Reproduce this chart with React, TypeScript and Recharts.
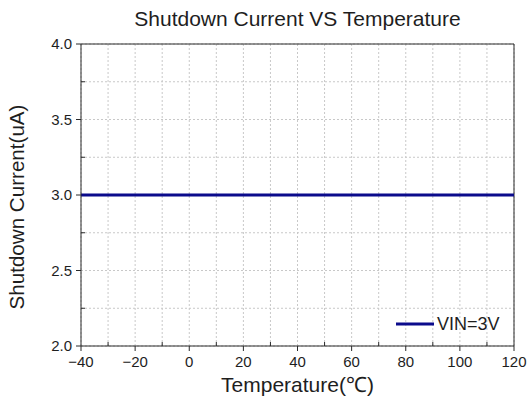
import React from 'react';
import { LineChart, Line, XAxis, YAxis, CartesianGrid, ReferenceLine, Legend } from 'recharts';

const temperatures = [-40, -20, 0, 20, 40, 60, 80, 100, 120];
const shutdownCurrent = [3.0, 3.0, 3.0, 3.0, 3.0, 3.0, 3.0, 3.0, 3.0];
const xTicks = [-40, -30, -20, -10, 0, 10, 20, 30, 40, 50, 60, 70, 80, 90, 100, 110, 120];
const yTicks = [2.0, 2.25, 2.5, 2.75, 3.0, 3.25, 3.5, 3.75, 4.0];
const seriesName = 'VIN=3V';
const title = 'Shutdown Current VS Temperature';
const xLabel = 'Temperature(℃)';
const yLabel = 'Shutdown Current(uA)';

const data = temperatures.map((t, i) => ({ t, v: shutdownCurrent[i] }));

const FONT = '"Liberation Sans", Arial, sans-serif';
const LINE_COLOR = '#0b0b8c';
const AXIS_COLOR = '#2a2a2a';
const TEXT_COLOR = '#1e1e1e';

const fmtX = (v: number) => (v < 0 ? '\u2212' + Math.abs(v) : String(v));

const XTick = (props: any) => {
  const { x, y, payload } = props;
  const v = payload.value as number;
  const major = v % 20 === 0;
  return (
    <g>
      <line x1={x} x2={x} y1={y} y2={major ? y + 5 : y - 4} stroke={AXIS_COLOR} strokeWidth={1} />
      {major && (
        <text x={x} y={y + 16} dy="0.35em" textAnchor="middle" fontSize={15} fill={TEXT_COLOR} fontFamily={FONT}>
          {fmtX(v)}
        </text>
      )}
    </g>
  );
};

const YTick = (props: any) => {
  const { x, y, payload } = props;
  const v = payload.value as number;
  const major = Math.abs(v * 2 - Math.round(v * 2)) < 1e-6;
  return (
    <g>
      <line x1={x} x2={major ? x - 5 : x + 4} y1={y} y2={y} stroke={AXIS_COLOR} strokeWidth={1} />
      {major && (
        <text x={x - 9} y={y} dy="0.35em" textAnchor="end" fontSize={15} fill={TEXT_COLOR} fontFamily={FONT}>
          {v.toFixed(1)}
        </text>
      )}
    </g>
  );
};

const YLabel = (props: any) => {
  const vb = props.viewBox || { x: 0, y: 0, width: 0, height: 0 };
  const cx = vb.x + 17;
  const cy = vb.y + vb.height / 2 + 12;
  return (
    <text
      x={cx}
      y={cy}
      dy="0.35em"
      transform={`rotate(-90 ${cx} ${cy})`}
      textAnchor="middle"
      fontSize={20.6}
      fill={TEXT_COLOR}
      fontFamily={FONT}
    >
      {yLabel}
    </text>
  );
};

const XLabel = (props: any) => {
  const vb = props.viewBox || { x: 0, y: 0, width: 0, height: 0 };
  const cx = vb.x + vb.width / 2;
  const cy = vb.y + 39;
  return (
    <text x={cx} y={cy} dy="0.35em" textAnchor="middle" fontSize={21} fill={TEXT_COLOR} fontFamily={FONT}>
      {xLabel}
    </text>
  );
};

const LegendContent = () => (
  <div style={{ display: 'flex', alignItems: 'center', fontFamily: FONT, fontSize: 18, color: TEXT_COLOR }}>
    <svg width={40} height={20} style={{ display: 'block' }}>
      <line x1={1} x2={39} y1={10} y2={10} stroke={LINE_COLOR} strokeWidth={3} />
    </svg>
    <span style={{ marginLeft: 2, lineHeight: '20px' }}>{seriesName}</span>
  </div>
);

export default function App() {
  return (
    <div style={{ position: 'absolute', left: 0, top: 0, width: 528, height: 402, background: '#fff' }}>
      <div
        style={{
          position: 'absolute',
          top: 7,
          left: 0,
          width: 595,
          textAlign: 'center',
          fontFamily: FONT,
          fontSize: 21,
          lineHeight: '24px',
          color: TEXT_COLOR,
          zIndex: 2,
        }}
      >
        {title}
      </div>
      <LineChart width={528} height={402} data={data} margin={{ top: 44, right: 14, left: 0, bottom: 0 }}>
        <CartesianGrid stroke="#c8c8c8" strokeDasharray="2 2" />
        <XAxis
          dataKey="t"
          type="number"
          domain={[-40, 120]}
          ticks={xTicks}
          interval={0}
          height={56}
          tickSize={0}
          tickMargin={0}
          tickLine={false}
          axisLine={{ stroke: AXIS_COLOR }}
          tick={<XTick />}
          label={<XLabel />}
        />
        <YAxis
          type="number"
          domain={[2, 4]}
          ticks={yTicks}
          interval={0}
          width={81}
          tickSize={0}
          tickMargin={0}
          tickLine={false}
          axisLine={{ stroke: AXIS_COLOR }}
          tick={<YTick />}
          label={<YLabel />}
        />
        <ReferenceLine y={4} stroke={AXIS_COLOR} strokeWidth={1} />
        <ReferenceLine x={120} stroke={AXIS_COLOR} strokeWidth={1} />
        <Line
          dataKey="v"
          name={seriesName}
          stroke={LINE_COLOR}
          strokeWidth={3}
          dot={false}
          activeDot={false}
          isAnimationActive={false}
        />
        <Legend
          layout="horizontal"
          verticalAlign="middle"
          align="center"
          wrapperStyle={{ left: 395, top: 314, width: 'auto' }}
          content={<LegendContent />}
        />
      </LineChart>
    </div>
  );
}
